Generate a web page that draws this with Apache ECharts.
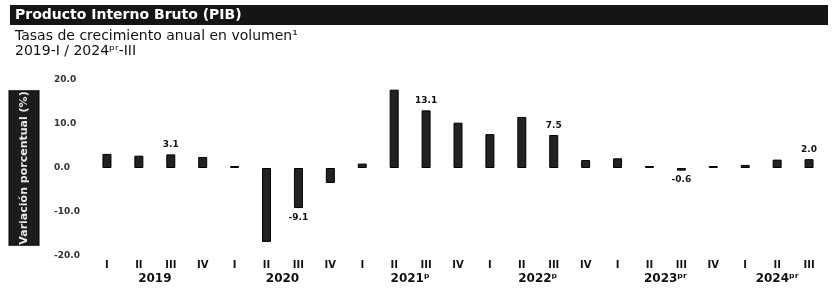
<!DOCTYPE html>
<html>
<head>
<meta charset="utf-8">
<script src="https://cdn.jsdelivr.net/npm/echarts@6/dist/echarts.min.js"></script>
<style>html,body{margin:0;padding:0;background:#fff}#c{width:832px;height:290px}</style>
</head>
<body>
<div id="c"></div>
<script>
// ---- data ----
const quarters = ['I','II','III','IV','I','II','III','IV','I','II','III','IV','I','II','III','IV','I','II','III','IV','I','II','III'];
const growth = [3.2, 2.8, 3.1, 2.5, 0.4, -16.8, -9.1, -3.4, 1.0, 17.8, 13.1, 10.3, 7.7, 11.6, 7.5, 1.8, 2.2, 0.2, -0.6, 0.3, 0.7, 1.9, 2.0];
const labeledIdx = [2, 6, 10, 14, 18, 22];
const yearLabels = ['2019', '2020', '2021ᵖ', '2022ᵖ', '2023ᵖʳ', '2024ᵖʳ'];
const yearCounts = [4, 4, 4, 4, 4, 3];
const yTicks = [-20, -10, 0, 10, 20];

// ---- derived ----
const yearCenters = [];
let acc = 0;
yearCounts.forEach(n => { yearCenters.push(acc + (n - 1) / 2); acc += n; });

const FONT = 'DejaVu Sans';
const chart = echarts.init(document.getElementById('c'), null, {renderer: 'canvas'});

const barData = growth.map((v, i) => ({
  value: v,
  label: {
    show: labeledIdx.indexOf(i) >= 0,
    position: v < 0 ? 'bottom' : 'top'
  }
}));

chart.setOption({
  backgroundColor: '#fff',
  animation: false,
  textStyle: {fontFamily: FONT},
  graphic: [{
    type: 'rect', left: 10, top: 5, z: 0,
    shape: {width: 818, height: 20},
    style: {fill: '#151515'}
  }],
  title: [{
    text: 'Producto Interno Bruto (PIB)',
    left: 15, top: 7, padding: 0, z: 10,
    textStyle: {fontFamily: FONT, fontSize: 14, fontWeight: 'bold', color: '#fff', lineHeight: 16}
  }, {
    text: 'Tasas de crecimiento anual en volumen¹\n2019-I / 2024ᵖʳ-III',
    left: 15, top: 29, padding: 0,
    textStyle: {fontFamily: FONT, fontSize: 14, fontWeight: 'normal', color: '#111', lineHeight: 15}
  }],
  grid: {left: 91, right: 7, top: 80, bottom: 34, containLabel: false},
  xAxis: [{
    type: 'category',
    data: quarters,
    position: 'bottom',
    axisLine: {show: false},
    axisTick: {show: false},
    axisLabel: {fontFamily: FONT, fontSize: 10, fontWeight: 'bold', color: '#111', margin: 4, interval: 0}
  }, {
    type: 'value',
    min: -0.5, max: quarters.length - 0.5, interval: 0.5,
    position: 'bottom',
    axisLine: {show: false},
    axisTick: {show: false},
    splitLine: {show: false},
    axisLabel: {
      fontFamily: FONT, fontSize: 12, fontWeight: 'bold', color: '#111', margin: 17,
      showMinLabel: true, showMaxLabel: true,
      formatter: v => {
        const k = yearCenters.findIndex(c => Math.abs(c - v) < 0.01);
        return k >= 0 ? yearLabels[k] : '';
      }
    }
  }],
  yAxis: {
    type: 'value',
    min: yTicks[0], max: yTicks[yTicks.length - 1], interval: 10,
    axisLine: {show: false},
    axisTick: {show: false},
    splitLine: {show: false},
    axisLabel: {
      fontFamily: FONT, fontSize: 9, fontWeight: 'bold', color: '#333',
      align: 'left', margin: 37,
      formatter: v => v.toFixed(1)
    },
    name: 'Variación porcentual (%)',
    nameLocation: 'middle',
    nameRotate: 90,
    nameGap: 67,
    nameTextStyle: {
      fontFamily: FONT, fontSize: 11, fontWeight: 'bold', color: '#e8e8e8',
      backgroundColor: '#1c1c1c', borderColor: '#000', borderWidth: 1,
      width: 162, height: 29, lineHeight: 29, align: 'center', verticalAlign: 'middle',
      padding: 0
    }
  },
  series: [{
    type: 'bar',
    xAxisIndex: 0,
    yAxisIndex: 0,
    data: barData,
    barWidth: 9,
    barMinHeight: 2,
    itemStyle: {color: '#222', borderColor: '#000', borderWidth: 1},
    label: {
      fontFamily: FONT, fontSize: 9, fontWeight: 'bold', color: '#111', distance: 5,
      formatter: p => p.value.toFixed(1)
    }
  }]
});
</script>
</body>
</html>
